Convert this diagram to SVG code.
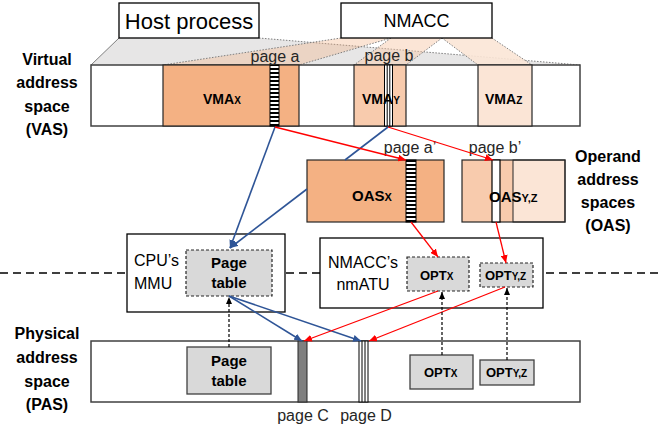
<svg xmlns="http://www.w3.org/2000/svg" width="662" height="431" viewBox="0 0 662 431">
<style>
text{font-family:"Liberation Sans",Arial,sans-serif;fill:#000}
.b{font-weight:bold}
.lab{font-size:16px;font-weight:bold;text-anchor:middle}
.pg{font-size:16px;fill:#262626;text-anchor:middle}
.box{fill:#fff;stroke:#000;stroke-width:1.3}
.sp{fill:#fff;stroke:#404040;stroke-width:1.5}
.dash{fill:#d9d9d9;stroke:#262626;stroke-width:1.2;stroke-dasharray:3 2}
.solidg{fill:#d9d9d9;stroke:#404040;stroke-width:1.3}
.edge{fill:none;stroke:#7f7f7f;stroke-width:1;stroke-dasharray:1.5 1.5}
.blue{fill:none;stroke:#2f5597;stroke-width:1.6;marker-end:url(#ab)}
.red{fill:none;stroke:#ff0000;stroke-width:1.3;marker-end:url(#ar)}
.blk{fill:none;stroke:#000;stroke-width:1.2;stroke-dasharray:3 2;marker-end:url(#ak)}
.ln{stroke:#000;stroke-width:1}
</style>
<defs>
<marker id="ab" viewBox="0 0 10 10" refX="10" refY="5" markerUnits="userSpaceOnUse" markerWidth="8" markerHeight="7" preserveAspectRatio="none" orient="auto"><path d="M0,0 L10,5 L0,10 z" fill="#2f5597"/></marker>
<marker id="ar" viewBox="0 0 10 10" refX="10" refY="5" markerUnits="userSpaceOnUse" markerWidth="8" markerHeight="7" preserveAspectRatio="none" orient="auto"><path d="M0,0 L10,5 L0,10 z" fill="#ff0000"/></marker>
<marker id="ak" viewBox="0 0 10 10" refX="10" refY="5" markerUnits="userSpaceOnUse" markerWidth="7" markerHeight="6" preserveAspectRatio="none" orient="auto"><path d="M0,0 L10,5 L0,10 z" fill="#000"/></marker>
<pattern id="hs" patternUnits="userSpaceOnUse" x="0" y="0" width="10" height="4"><rect width="10" height="4" fill="#fff"/><rect y="0" width="10" height="2" fill="#000"/></pattern>
</defs>

<!-- divider -->
<line x1="0" y1="273" x2="662" y2="273" stroke="#000" stroke-width="1.5" stroke-dasharray="8 5"/>

<!-- zoom trapezoids -->
<g id="trapezoids">
<polygon points="119,38 259,38 580,65 91,65" fill="#e7e6e6"/>
<line x1="119" y1="38" x2="91" y2="65" stroke="#7f7f7f" stroke-width="1"/>
<line x1="259" y1="38" x2="580" y2="65" class="edge"/>
<polygon points="341,38 391,38 299,65 163,65" fill="#f4b183" fill-opacity="0.35"/>
<polygon points="391,38 442,38 406,65 354,65" fill="#f8cbad" fill-opacity="0.5"/>
<polygon points="442,38 492,38 532,65 478,65" fill="#fbe5d6" fill-opacity="0.9"/>
<line x1="341" y1="38" x2="163" y2="65" class="edge"/>
<line x1="391" y1="38" x2="299" y2="65" class="edge"/>
<line x1="391" y1="38" x2="354" y2="65" class="edge"/>
<line x1="442" y1="38" x2="406" y2="65" class="edge"/>
<line x1="442" y1="38" x2="478" y2="65" class="edge"/>
<line x1="492" y1="38" x2="532" y2="65" class="edge"/>
</g>

<g id="host-process">
<rect class="box" x="119" y="3" width="140" height="35"/>
<text x="189" y="29" font-size="22" text-anchor="middle">Host process</text>
</g>
<g id="nmacc">
<rect class="box" x="341" y="3" width="151" height="35"/>
<text x="416.5" y="27" font-size="18" text-anchor="middle">NMACC</text>
</g>

<g id="vas">
<rect class="sp" x="91" y="65" width="489" height="61"/>
<text class="lab" x="47" y="65">Virtual</text>
<text class="lab" x="47" y="88">address</text>
<text class="lab" x="47" y="112">space</text>
<text class="lab" x="47" y="135">(VAS)</text>
</g>
<g id="vma-x">
<rect x="163" y="65" width="136" height="61" fill="#f4b183" stroke="#262626" stroke-width="1.2"/>
<text x="203" y="104" font-size="14" class="b">VMA<tspan font-size="10">X</tspan></text>
</g>
<g id="page-a">
<rect x="270" y="65" width="9" height="61" fill="url(#hs)" stroke="#000" stroke-width="1"/>
<text class="pg" x="275" y="62">page a</text>
</g>
<g id="vma-y">
<rect x="354" y="65" width="52" height="61" fill="#f8cbad" stroke="#262626" stroke-width="1.2"/>
<rect x="384.5" y="65" width="8" height="61" fill="#fff" stroke="#000" stroke-width="1"/>
<line class="ln" x1="387.2" y1="65" x2="387.2" y2="126"/>
<line class="ln" x1="389.8" y1="65" x2="389.8" y2="126"/>
<text x="362" y="104" font-size="14" class="b">VMA<tspan font-size="10">Y</tspan></text>
<text class="pg" x="389" y="61">page b</text>
</g>
<g id="vma-z">
<rect x="478" y="65" width="54" height="61" fill="#fbe5d6" stroke="#262626" stroke-width="1.2"/>
<text x="485" y="104" font-size="14" class="b">VMA<tspan font-size="10">Z</tspan></text>
</g>

<g id="oas-x">
<rect x="307" y="160" width="137" height="62" fill="#f4b183" stroke="#262626" stroke-width="1.2"/>
<rect x="406" y="160" width="10" height="62" fill="url(#hs)" stroke="#000" stroke-width="1"/>
<text x="352" y="201" font-size="15" class="b">OAS<tspan font-size="11">X</tspan></text>
<text class="pg" x="410" y="153">page a’</text>
</g>
<g id="oas-yz">
<rect x="462" y="160" width="103" height="62" fill="#f8cbad"/>
<rect x="513" y="160" width="52" height="62" fill="#fbe5d6" stroke="#262626" stroke-width="1"/>
<rect x="462" y="160" width="103" height="62" fill="none" stroke="#262626" stroke-width="1.2"/>
<rect x="492" y="160" width="8" height="62" fill="#fff" stroke="#000" stroke-width="1.2"/>
<text x="489" y="202" font-size="15" class="b">OAS<tspan font-size="11">Y,Z</tspan></text>
<text class="pg" x="495" y="153">page b’</text>
</g>
<g id="oas-label">
<text class="lab" x="608" y="162">Operand</text>
<text class="lab" x="608" y="185">address</text>
<text class="lab" x="608" y="208">spaces</text>
<text class="lab" x="608" y="231">(OAS)</text>
</g>

<g id="cpu-mmu">
<rect class="box" x="127" y="234" width="158" height="78"/>
<text x="134" y="266" font-size="16">CPU’s</text>
<text x="134" y="289" font-size="16">MMU</text>
</g>
<g id="mmu-page-table">
<rect class="dash" x="186" y="250" width="86" height="46"/>
<text x="229" y="268" font-size="15" class="b" text-anchor="middle">Page</text>
<text x="229" y="288" font-size="15" class="b" text-anchor="middle">table</text>
</g>
<g id="nmacc-nmatu">
<rect class="box" x="320" y="238" width="223" height="70"/>
<text x="363" y="268" font-size="16" text-anchor="middle">NMACC’s</text>
<text x="363" y="290" font-size="16" text-anchor="middle">nmATU</text>
</g>
<g id="opt-x">
<rect class="dash" x="407" y="257" width="62" height="34"/>
<text x="420" y="280" font-size="13" class="b">OPT<tspan font-size="10">X</tspan></text>
</g>
<g id="opt-yz">
<rect class="dash" x="480" y="263" width="53" height="24"/>
<text x="485" y="280" font-size="13" class="b">OPT<tspan font-size="10">Y,Z</tspan></text>
</g>

<g id="pas">
<rect class="sp" x="91" y="341" width="489" height="61"/>
<text class="lab" x="47" y="339">Physical</text>
<text class="lab" x="47" y="363">address</text>
<text class="lab" x="47" y="387">space</text>
<text class="lab" x="47" y="410">(PAS)</text>
</g>
<g id="pas-page-table">
<rect class="solidg" x="187" y="347" width="84" height="47"/>
<text x="229" y="366" font-size="15" class="b" text-anchor="middle">Page</text>
<text x="229" y="386" font-size="15" class="b" text-anchor="middle">table</text>
</g>
<g id="page-c">
<rect x="298" y="341" width="9" height="61" fill="#7f7f7f" stroke="#262626" stroke-width="1"/>
<text class="pg" x="303" y="421">page C</text>
</g>
<g id="page-d">
<rect x="359" y="341" width="9" height="61" fill="#fff" stroke="#000" stroke-width="1"/>
<line class="ln" x1="362" y1="341" x2="362" y2="402"/>
<line class="ln" x1="365" y1="341" x2="365" y2="402"/>
<text class="pg" x="366" y="421">page D</text>
</g>
<g id="pas-opt-x">
<rect class="solidg" x="410" y="355" width="63" height="34"/>
<text x="424" y="377" font-size="13" class="b">OPT<tspan font-size="10">X</tspan></text>
</g>
<g id="pas-opt-yz">
<rect class="solidg" x="480" y="360" width="54" height="25"/>
<text x="486" y="377" font-size="13" class="b">OPT<tspan font-size="10">Y,Z</tspan></text>
</g>

<g id="connectors">
<path class="blue" d="M275,127 L230,248"/>
<path d="M388,127 L345,160" fill="none" stroke="#2f5597" stroke-width="1.6"/>
<path class="blue" d="M307,189 L230,248"/>
<path class="red" d="M275,127 L406,160"/>
<path class="red" d="M388,127 L493,160"/>
<path class="red" d="M411,222 L438,257"/>
<path class="red" d="M496,222 L506,263"/>
<path class="blue" d="M229,296 L302,341"/>
<path class="blue" d="M229,296 L361,341"/>
<path class="red" d="M438,291 L304,341"/>
<path class="red" d="M505,287 L369,341"/>
<path class="blk" d="M229,347 L229,297"/>
<path class="blk" d="M442,355 L442,292"/>
<path class="blk" d="M507,360 L507,288"/>
</g>
</svg>
